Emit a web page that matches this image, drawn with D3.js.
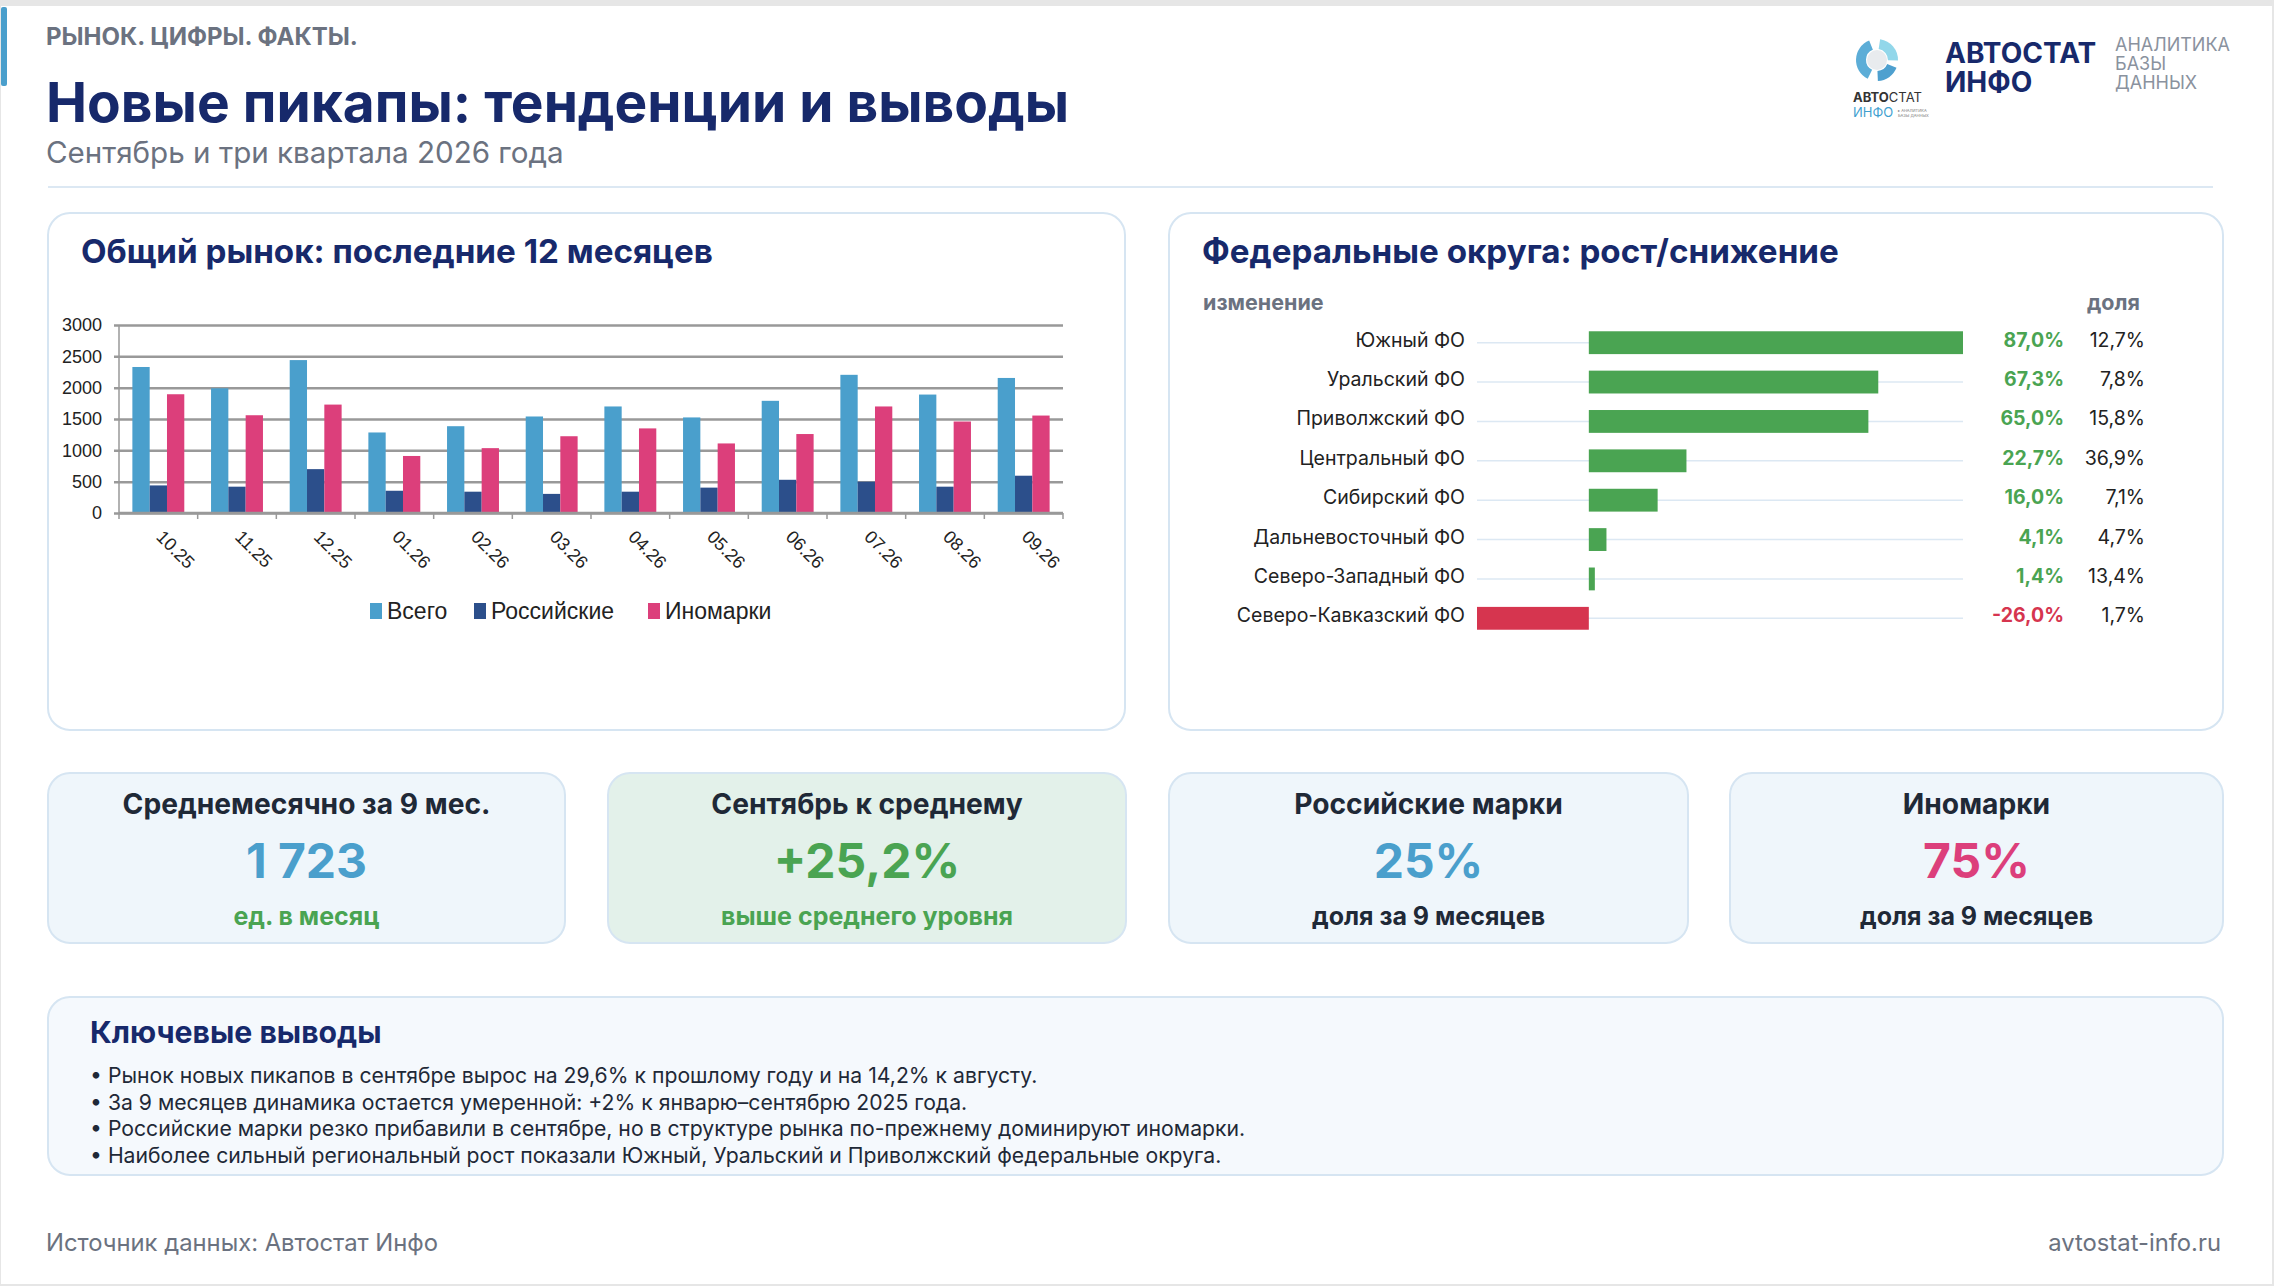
<!DOCTYPE html>
<html>
<head>
<meta charset="utf-8">
<script src="https://cdn.jsdelivr.net/npm/d3@7"></script>
<style>
  html, body { margin: 0; padding: 0; background: #e6e6e6; }
  svg { display: block; }
  text { font-family: Inter, "Noto Sans", sans-serif; }
  .xls text { font-family: "Liberation Sans", Arial, sans-serif; }
</style>
</head>
<body>
<svg id="page" width="2274" height="1286"></svg>
<script>
const W = 2274, H = 1286;

// chart data: last 12 months
const months = ["10.25", "11.25", "12.25", "01.26", "02.26", "03.26", "04.26", "05.26", "06.26", "07.26", "08.26", "09.26"];
const totalSales = [2330, 1990, 2440, 1285, 1385, 1540, 1700, 1525, 1790, 2205, 1890, 2155];
const russianSales = [440, 420, 700, 355, 340, 305, 340, 405, 530, 500, 420, 595];
const foreignSales = [1895, 1560, 1730, 910, 1035, 1225, 1350, 1110, 1260, 1700, 1460, 1555];
const seriesNames = ["Всего", "Российские", "Иномарки"];
const seriesColors = ["#4a9fcc", "#2c4f8b", "#dc3f7b"];

// federal districts
const regions = ["Южный ФО", "Уральский ФО", "Приволжский ФО", "Центральный ФО", "Сибирский ФО", "Дальневосточный ФО", "Северо-Западный ФО", "Северо-Кавказский ФО"];
const regionChange = [87.0, 67.3, 65.0, 22.7, 16.0, 4.1, 1.4, -26.0];
const regionShare = [12.7, 7.8, 15.8, 36.9, 7.1, 4.7, 13.4, 1.7];

// kpi cards
const kpiTitles = ["Среднемесячно за 9 мес.", "Сентябрь к среднему", "Российские марки", "Иномарки"];
const kpiValues = ["1 723", "+25,2%", "25%", "75%"];
const kpiNotes = ["ед. в месяц", "выше среднего уровня", "доля за 9 месяцев", "доля за 9 месяцев"];

const conclusions = [
  "Рынок новых пикапов в сентябре вырос на 29,6% к прошлому году и на 14,2% к августу.",
  "За 9 месяцев динамика остается умеренной: +2% к январю–сентябрю 2025 года.",
  "Российские марки резко прибавили в сентябре, но в структуре рынка по-прежнему доминируют иномарки.",
  "Наиболее сильный региональный рост показали Южный, Уральский и Приволжский федеральные округа."
];

const NAVY = "#17296b", GRAY = "#6b7280", DARK = "#1f2937";
const GREEN = "#4aa452", RED = "#d6354f";
const fmt = v => d3.format(".1f")(v).replace(".", ",").replace("\u2212", "-") + "%";

const svg = d3.select("#page");

// page frame
svg.append("rect").attr("width", W).attr("height", H).attr("fill", "#e6e6e6");
svg.append("rect").attr("x", 1).attr("y", 6).attr("width", 2271).attr("height", 1278).attr("fill", "#fff");
svg.append("rect").attr("x", 1).attr("y", 7).attr("width", 6).attr("height", 79).attr("rx", 2).attr("fill", "#4a9fcc");

// header
svg.append("text").attr("x", 46).attr("y", 45).text("РЫНОК. ЦИФРЫ. ФАКТЫ.")
  .attr("font-size", 24).attr("font-weight", 700).attr("fill", GRAY);
svg.append("text").attr("x", 46).attr("y", 122).text("Новые пикапы: тенденции и выводы")
  .attr("font-size", 55).attr("font-weight", 700).attr("fill", NAVY);
svg.append("text").attr("x", 46).attr("y", 163).text("Сентябрь и три квартала 2026 года")
  .attr("font-size", 29.6).attr("fill", GRAY);
svg.append("rect").attr("x", 48).attr("y", 186).attr("width", 2165).attr("height", 2).attr("fill", "#dce8f3");

// logo
const logo = svg.append("g").attr("transform", "translate(1877,60)");
const ring = d3.arc().innerRadius(11).outerRadius(21);
[[0.15, 1.6, "#7fd0e6"], [3.6, 5.9, "#3f9fd0"], [1.95, 3.1, "#2f8fc7"]].forEach(([a0, a1, c]) => {
  logo.append("path").attr("d", ring({startAngle: a0, endAngle: a1})).attr("fill", c).attr("opacity", 0.85);
});
logo.append("circle").attr("r", 10).attr("fill", "#d9dde2").attr("opacity", 0.6);
const small = svg.append("text").attr("x", 1853).attr("y", 102).attr("font-size", 13);
small.append("tspan").attr("font-weight", 700).attr("fill", "#333").text("АВТО");
small.append("tspan").attr("fill", "#333").text("СТАТ");
small.append("tspan").attr("x", 1853).attr("dy", 15).attr("fill", "#3f9fd0").text("ИНФО");
const tiny = svg.append("text").attr("x", 1898).attr("y", 112).attr("font-size", 4).attr("fill", "#777");
tiny.append("tspan").text("▸ АНАЛИТИКА");
tiny.append("tspan").attr("x", 1898).attr("dy", 5).text("БАЗЫ ДАННЫХ");
const brand = svg.append("text").attr("x", 1945).attr("y", 63).attr("font-size", 28).attr("font-weight", 700)
  .attr("font-family", "Liberation Sans, Arial").attr("fill", NAVY);
brand.append("tspan").text("АВТОСТАТ");
brand.append("tspan").attr("x", 1945).attr("dy", 29).text("ИНФО");
const tag = svg.append("text").attr("x", 2115).attr("y", 51).attr("font-size", 18)
  .attr("font-family", "Liberation Sans, Arial").attr("fill", "#8a929e");
["АНАЛИТИКА", "БАЗЫ", "ДАННЫХ"].forEach((t, i) => {
  tag.append("tspan").attr("x", 2115).attr("dy", i ? 19 : 0).text(t);
});

function panel(x, y, w, h, fill) {
  svg.append("rect").attr("x", x).attr("y", y).attr("width", w).attr("height", h).attr("rx", 22)
    .attr("fill", fill).attr("stroke", "#d6e5f2").attr("stroke-width", 2);
}

// ---- left panel: grouped bars
panel(48, 213, 1077, 517, "#fff");
svg.append("text").attr("x", 81).attr("y", 263).text("Общий рынок: последние 12 месяцев")
  .attr("font-size", 33.2).attr("font-weight", 700).attr("fill", NAVY);

const plot = {left: 119, right: 1063, top: 325, bottom: 513};
const x = d3.scaleBand().domain(months).range([plot.left, plot.right]).paddingInner(0.34).paddingOuter(0.17);
const xCat = d3.scaleBand().domain(months).range([plot.left, plot.right]).padding(0);
const xSub = d3.scaleBand().domain(seriesNames).range([0, x.bandwidth()]);
const y = d3.scaleLinear().domain([0, 3000]).range([plot.bottom, plot.top]);

const chart = svg.append("g").attr("class", "xls");

const yAxis = chart.append("g").attr("transform", `translate(${plot.left},0)`)
  .call(d3.axisLeft(y).tickValues(d3.range(0, 3001, 500)).tickFormat(d3.format("d"))
    .tickSizeInner(-(plot.right - plot.left)).tickSizeOuter(0).tickPadding(17));
yAxis.select(".domain").remove();
yAxis.selectAll(".tick line").attr("x1", -5).attr("stroke", "#999").attr("stroke-width", 2.5);
yAxis.selectAll(".tick text").attr("font-size", 18).attr("fill", "#222");

const rows = months.map((m, i) => ({m, vals: [totalSales[i], russianSales[i], foreignSales[i]]}));
chart.append("g").selectAll("g").data(rows).join("g")
  .attr("transform", d => `translate(${x(d.m)},0)`)
  .selectAll("rect").data(d => d.vals.map((v, k) => ({k, v}))).join("rect")
  .attr("x", d => xSub(seriesNames[d.k]))
  .attr("width", xSub.bandwidth())
  .attr("y", d => y(d.v))
  .attr("height", d => y(0) - y(d.v))
  .attr("fill", d => seriesColors[d.k]);

// axis lines like Excel: baseline, vertical axis and ticks at category edges
chart.append("line").attr("x1", plot.left).attr("x2", plot.right).attr("y1", y(0)).attr("y2", y(0))
  .attr("stroke", "#999").attr("stroke-width", 2.5);
chart.append("line").attr("x1", plot.left).attr("x2", plot.left).attr("y1", plot.top).attr("y2", y(0))
  .attr("stroke", "#999").attr("stroke-width", 1.5);
chart.append("g").selectAll("line").data(d3.range(months.length + 1)).join("line")
  .attr("x1", i => plot.left + i * xCat.step()).attr("x2", i => plot.left + i * xCat.step())
  .attr("y1", y(0)).attr("y2", y(0) + 6).attr("stroke", "#999").attr("stroke-width", 1.5);

const xAxis = chart.append("g").attr("transform", `translate(0,${y(0)})`)
  .call(d3.axisBottom(xCat).tickSize(0).tickPadding(0));
xAxis.select(".domain").remove();
xAxis.selectAll(".tick text")
  .attr("font-size", 18).attr("fill", "#222")
  .attr("text-anchor", "start").attr("dy", 0)
  .attr("transform", "translate(-3,25) rotate(45)");

const legend = chart.append("g").attr("transform", "translate(370,611)");
const legX = [0, 104, 278];
seriesNames.forEach((n, k) => {
  legend.append("rect").attr("x", legX[k]).attr("y", -8).attr("width", 12).attr("height", 16).attr("fill", seriesColors[k]);
  legend.append("text").attr("x", legX[k] + 17).attr("y", 8).attr("font-size", 23).attr("fill", "#222").text(n);
});

// ---- right panel: federal districts
panel(1169, 213, 1054, 517, "#fff");
svg.append("text").attr("x", 1202).attr("y", 263).text("Федеральные округа: рост/снижение")
  .attr("font-size", 33.2).attr("font-weight", 700).attr("fill", NAVY);
svg.append("text").attr("x", 1203).attr("y", 310).text("изменение")
  .attr("font-size", 21.5).attr("font-weight", 700).attr("fill", GRAY);
svg.append("text").attr("x", 2087).attr("y", 310).text("доля")
  .attr("font-size", 21.5).attr("font-weight", 700).attr("fill", GRAY);

const rx = d3.scaleLinear().domain(d3.extent(regionChange)).range([1477, 1963]);
const ry = d3.scaleBand().domain(regions).range([323, 638]).paddingInner(0.42).paddingOuter(0.21);
const reg = svg.append("g").selectAll("g").data(regions.map((r, i) => ({r, c: regionChange[i], s: regionShare[i]}))).join("g")
  .attr("transform", d => `translate(0,${ry(d.r) + ry.bandwidth() / 2})`);
reg.append("line").attr("x1", rx.range()[0]).attr("x2", rx.range()[1]).attr("stroke", "#dce8f3").attr("stroke-width", 1.5);
reg.append("rect")
  .attr("x", d => rx(Math.min(0, d.c))).attr("width", d => Math.abs(rx(d.c) - rx(0)))
  .attr("y", -ry.bandwidth() / 2).attr("height", ry.bandwidth())
  .attr("fill", d => d.c < 0 ? RED : GREEN);
reg.append("text").attr("x", 1465).attr("y", 4).attr("text-anchor", "end")
  .attr("font-size", 19.5).attr("fill", "#222").text(d => d.r);
reg.append("text").attr("x", 2064).attr("y", 4).attr("text-anchor", "end")
  .attr("font-size", 19.5).attr("font-weight", 700).attr("fill", d => d.c < 0 ? RED : GREEN).text(d => fmt(d.c));
reg.append("text").attr("x", 2145).attr("y", 4).attr("text-anchor", "end")
  .attr("font-size", 19.5).attr("fill", "#222").text(d => fmt(d.s));

// ---- kpi cards
const cardX = [48, 608, 1169, 1730];
const cardW = [517, 518, 519, 493];
const cardFill = ["#eff6fb", "#e3f1ea", "#eff6fb", "#eff6fb"];
const valColor = ["#4a9fcc", GREEN, "#4a9fcc", "#dc3f7b"];
const noteColor = [GREEN, GREEN, DARK, DARK];
kpiTitles.forEach((t, i) => {
  panel(cardX[i], 773, cardW[i], 170, cardFill[i]);
  const cx = cardX[i] + cardW[i] / 2;
  svg.append("text").attr("x", cx).attr("y", 814).attr("text-anchor", "middle")
    .attr("font-size", 28.2).attr("font-weight", 700).attr("fill", DARK).text(t);
  svg.append("text").attr("x", cx).attr("y", 878).attr("text-anchor", "middle")
    .attr("font-size", 48).attr("font-weight", 700).attr("fill", valColor[i]).text(kpiValues[i]);
  svg.append("text").attr("x", cx).attr("y", 925).attr("text-anchor", "middle")
    .attr("font-size", 25).attr("font-weight", 700).attr("fill", noteColor[i]).text(kpiNotes[i]);
});

// ---- conclusions
panel(48, 997, 2175, 178, "#f5f9fd");
svg.append("text").attr("x", 90).attr("y", 1043).text("Ключевые выводы")
  .attr("font-size", 30.2).attr("font-weight", 700).attr("fill", NAVY);
svg.append("g").selectAll("text").data(conclusions).join("text")
  .attr("x", 90).attr("y", (d, i) => 1083 + i * 26.5)
  .attr("font-size", 21.2).attr("fill", DARK).text(d => "• " + d);

// footer
svg.append("text").attr("x", 46).attr("y", 1251).attr("font-size", 23.8).attr("fill", GRAY).text("Источник данных: Автостат Инфо");
svg.append("text").attr("x", 2221).attr("y", 1251).attr("text-anchor", "end").attr("font-size", 23.8).attr("fill", GRAY).text("avtostat-info.ru");
</script>
</body>
</html>
